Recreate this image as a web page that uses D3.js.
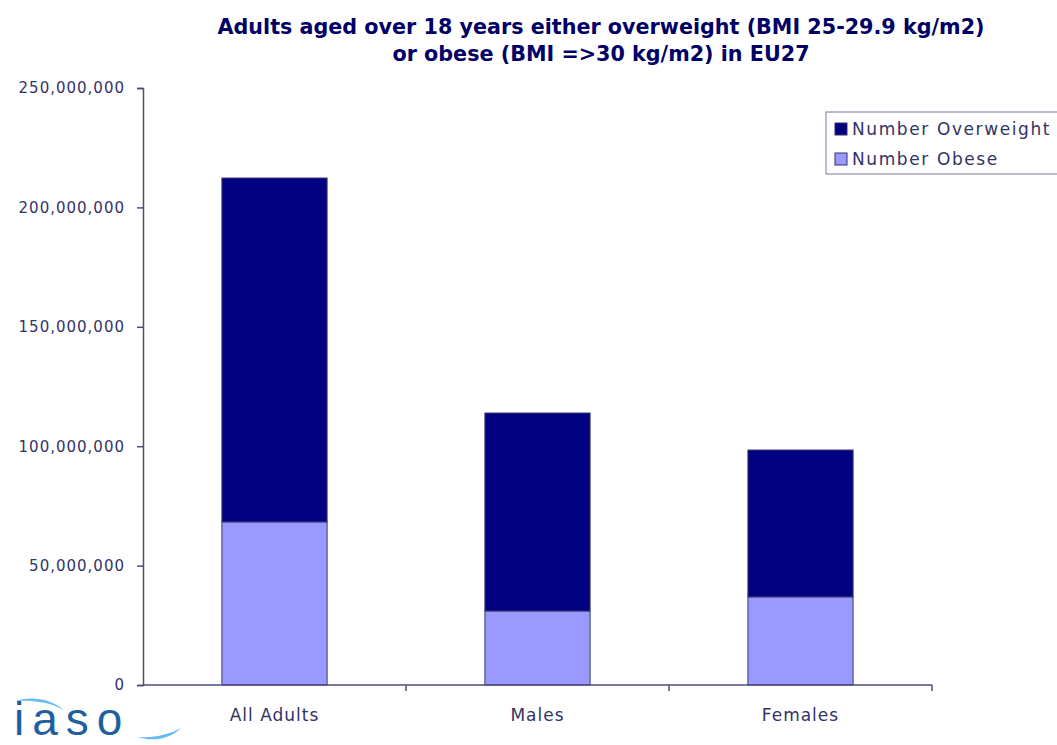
<!DOCTYPE html>
<html>
<head>
<meta charset="utf-8">
<script src="https://cdn.jsdelivr.net/npm/d3@7"></script>
<style>
  body { margin: 0; background: #fff; }
  svg text { font-family: "DejaVu Sans", Verdana, sans-serif; }
</style>
</head>
<body>
<svg width="1057" height="745"></svg>
<script>
// values (people)
const categories = ["All Adults", "Males", "Females"];
const obese = [68300000, 31000000, 36900000];
const overweight = [144000000, 82900000, 61500000];
const seriesNames = ["Number Overweight", "Number Obese"];
const yTicks = [0, 50000000, 100000000, 150000000, 200000000, 250000000];

const svg = d3.select("svg");
const margin = { top: 88, left: 143, right: 125, bottom: 60 };
const width = 1057, height = 745;

const x = d3.scaleBand()
    .domain(categories)
    .range([margin.left, width - margin.right])
    .paddingInner(0.6)
    .paddingOuter(0.3);

const y = d3.scaleLinear()
    .domain([0, 250000000])
    .range([height - margin.bottom, margin.top]);

const axisColor = "#4d4d7a";
const textColor = "#333366";

// title
svg.append("text")
    .attr("x", 601).attr("y", 34)
    .attr("text-anchor", "middle")
    .style("font-size", "20.7px").style("font-weight", "bold")
    .style("fill", "#000066")
    .text("Adults aged over 18 years either overweight (BMI 25-29.9 kg/m2)");
svg.append("text")
    .attr("x", 601).attr("y", 61)
    .attr("text-anchor", "middle")
    .style("font-size", "20.7px").style("font-weight", "bold")
    .style("fill", "#000066")
    .text("or obese (BMI =>30 kg/m2) in EU27");

// stacked bars
const rows = categories.map((c, i) => ({ cat: c, obese: obese[i], overweight: overweight[i] }));
const stack = d3.stack().keys(["obese", "overweight"])(rows);
const colors = { obese: "#9999ff", overweight: "#000080" };

svg.append("g").selectAll("g")
    .data(stack)
    .enter().append("g")
    .attr("fill", d => colors[d.key])
    .selectAll("rect")
    .data(d => d)
    .enter().append("rect")
    .attr("x", d => x(d.data.cat))
    .attr("width", x.bandwidth())
    .attr("y", d => y(d[1]))
    .attr("height", d => y(d[0]) - y(d[1]))
    .style("stroke", "#3a3a70")
    .style("stroke-width", 1);

// y axis
const yAxis = svg.append("g")
    .attr("transform", `translate(${margin.left},0)`)
    .call(d3.axisLeft(y).tickValues(yTicks).tickSize(6).tickPadding(12)
        .tickFormat(d => d === 0 ? "0" : d3.format(",")(d)));
yAxis.select(".domain").attr("stroke", axisColor).attr("stroke-width", 1.5);
yAxis.selectAll(".tick line").attr("stroke", axisColor).attr("stroke-width", 1.5);
yAxis.selectAll("text").style("font-size", "15px").style("fill", textColor)
    .style("letter-spacing", "1px")
    .style("font-family", "DejaVu Sans, Verdana, sans-serif");

// x axis: ticks on category boundaries
const xAxisG = svg.append("g")
    .attr("transform", `translate(0,${y(0)})`);
xAxisG.append("line")
    .attr("x1", margin.left).attr("x2", width - margin.right)
    .attr("stroke", axisColor).attr("stroke-width", 1.5);
const step = x.step();
const bounds = categories.map((c, i) => x(c) - step * x.paddingInner() / 2 + step);
xAxisG.selectAll(".bt")
    .data(bounds)
    .enter().append("line")
    .attr("x1", d => d).attr("x2", d => d)
    .attr("y1", 0).attr("y2", 6)
    .attr("stroke", axisColor).attr("stroke-width", 1.5);
xAxisG.selectAll(".cat")
    .data(categories)
    .enter().append("text")
    .attr("x", d => x(d) + x.bandwidth() / 2)
    .attr("y", 36)
    .attr("text-anchor", "middle")
    .style("font-size", "17px").style("fill", textColor)
    .style("letter-spacing", "1px")
    .text(d => d);

// legend
const legend = svg.append("g").attr("transform", "translate(826,112)");
legend.append("rect")
    .attr("width", 240).attr("height", 62)
    .attr("fill", "#fff").attr("stroke", "#7a7a99").attr("stroke-width", 1);
const legendColors = [colors.overweight, colors.obese];
seriesNames.forEach((name, i) => {
    legend.append("rect")
        .attr("x", 9).attr("y", 11 + i * 30)
        .attr("width", 12).attr("height", 12)
        .attr("fill", legendColors[i]).attr("stroke", "#333366");
    legend.append("text")
        .attr("x", 26).attr("y", 23 + i * 30)
        .style("font-size", "17px").style("fill", textColor)
        .style("letter-spacing", "1.6px")
        .text(name);
});

// iaso logo
const logo = svg.append("g");
logo.append("text")
    .attr("x", 14).attr("y", 735)
    .style("font-size", "46px").style("fill", "#1f5f9f")
    .style("letter-spacing", "8px")
    .style("font-family", "Liberation Sans, Arial, sans-serif")
    .text("iaso");
logo.append("path")
    .attr("d", "M15,701 C30,696 50,698 64,710 C50,702 32,700 15,701 Z")
    .attr("fill", "#66bbee");
logo.append("path")
    .attr("d", "M138,737 C156,738 170,734 181,728 C170,739 153,742 138,737 Z")
    .attr("fill", "#66bbee");
</script>
</body>
</html>
